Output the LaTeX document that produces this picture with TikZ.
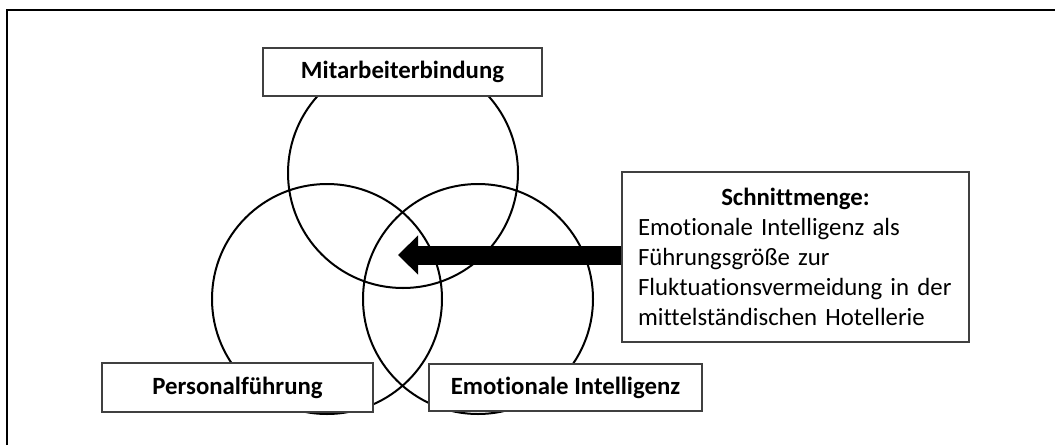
\documentclass[tikz,border=0pt]{standalone}
\usepackage{fontspec}
\setmainfont{Carlito}[Ligatures=NoCommon]
\usetikzlibrary{arrows.meta}
\begin{document}
\begin{tikzpicture}[x=1pt, y=-1pt,
    kreis/.style={circle, draw, line width=2pt, minimum size=230pt, inner sep=0pt},
    tafel/.style={draw=black!75, line width=1.3pt, fill=white, inner sep=0pt,
        font=\fontsize{24.8}{30}\selectfont\bfseries}]
    \useasboundingbox (0,0) rectangle (1055,445);

    % Rahmen (nur links und oben sichtbar)
    \draw[line width=2pt] (7,445) -- (7,10) -- (1055,10);

    % Drei Kreise
    \node[kreis] (bindung) at (403,173) {};
    \node[kreis] (fuehrung) at (327,299) {};
    \node[kreis] (intelligenz) at (478,299) {};

    % Beschriftungen der Kreise
    \node[tafel, minimum width=279pt, minimum height=48pt] (mb) at (402.5,72) {Mitarbeiterbindung};
    \node[tafel, minimum width=271pt, minimum height=49pt] (pf) at (237.5,387.5) {Personalführung};
    \node[tafel, minimum width=273pt, minimum height=47pt] (ei) at (565.5,387.5) {Emotionale Intelligenz};

    % Schnittmenge
    \node[draw=black!75, line width=1.3pt, fill=white, text width=315pt, inner xsep=16pt,
        inner ysep=0pt, minimum height=170pt, align=left,
        font=\fontsize{24.8}{30}\selectfont] (schnitt) at (795.5,257)
        {\makebox[\hsize]{\textbf{Schnittmenge:}}\\
         Emotionale Intelligenz als\\
         Führungsgröße zur\\
         Fluktuationsvermeidung in der\\
         mittelständischen Hotellerie};

    % Pfeil in die Mitte
    \coordinate (spitze) at (398,255);
    \draw[line width=19pt, -{Triangle[length=20pt, width=38pt]}] (spitze -| schnitt.west) -- (spitze);
\end{tikzpicture}
\end{document}
